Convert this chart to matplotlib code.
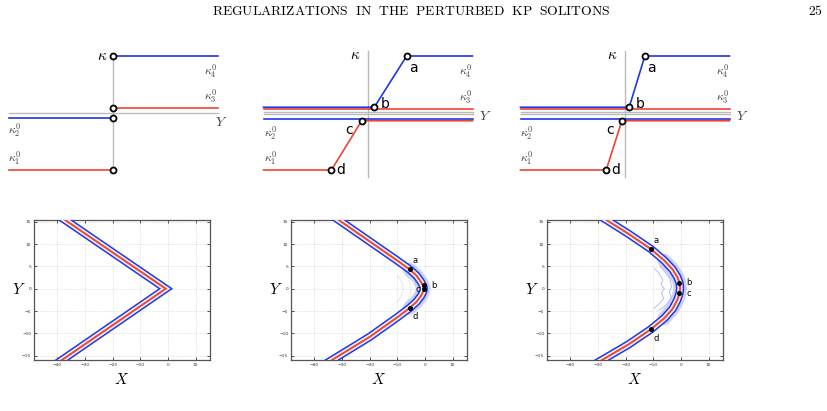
import numpy as np
import matplotlib.pyplot as plt

plt.rcParams['mathtext.fontset'] = 'cm'

# --- data ---
# top row: kappa levels (k1, k2, k3, k4) and break points Y of a, b, c, d
kap1 = [-1.0, -0.088, 0.088, 1.0]
kap23 = [-1.0, -0.12, 0.085, 1.0]
ya = [0.37, 0.19]
yb = [0.06, 0.04]
yc = [-0.06, -0.03]
yd = [-0.35, -0.18]

# bottom row: soliton center line (X, Y)
v_x = [-40.5, -0.8, -41.2]
v_y = [16.8, 0.0, -17.2]

p5_x = [-34.0, -20.0, -10.0, -5.5, -3.0, -1.4, -0.6, -0.4, -0.6, -1.4, -3.0, -5.5, -10.0, -20.0, -35.0]
p5_y = [16.6, 10.6, 6.3, 4.3, 2.9, 1.5, 0.5, 0.0, -0.6, -1.6, -2.9, -4.3, -6.4, -10.8, -16.5]
p5_dots_x = [-5.4, -0.3, -0.3, -5.4]
p5_dots_y = [4.4, 0.8, -0.15, -4.25]

p6_x = [-30.0, -19.0, -10.9, -6.0, -3.0, -1.3, -0.5, -0.3, -0.5, -1.3, -3.0, -6.0, -10.9, -19.0, -30.0]
p6_y = [16.6, 12.3, 8.9, 6.3, 4.3, 2.6, 1.3, 0.1, -1.0, -2.5, -4.5, -6.6, -9.1, -12.5, -16.5]
p6_dots_x = [-10.9, -0.65, -0.65, -10.9]
p6_dots_y = [8.9, 1.35, -1.0, -9.1]

# faint inner contours
arc5 = [
    ([-4.5, -3.6, -3.2, -3.6, -4.5], [3.2, 1.6, 0.0, -1.6, -3.2]),
    ([-7.0, -5.6, -5.0, -5.6, -7.0], [3.4, 1.8, 0.0, -1.8, -3.4]),
    ([-10.0, -8.4, -7.8, -8.4, -10.0], [3.0, 1.6, 0.0, -1.6, -3.0]),
]
arc6 = [
    ([-7.5, -5.5, -4.0, -3.4, -4.2, -3.5, -4.5, -6.0, -8.0],
     [5.0, 3.5, 2.2, 0.5, -0.8, -2.0, -3.0, -4.0, -4.8]),
    ([-9.5, -8.0, -6.5, -7.2, -6.0, -7.0, -6.2, -8.0, -9.8],
     [4.5, 3.5, 2.0, 1.0, 0.0, -1.0, -2.2, -3.5, -4.4]),
]

xticks = [-40, -30, -20, -10, 0, 10]
yticks = [-15, -10, -5, 0, 5, 10, 15]

BLUE = '#2036e8'
RED = '#ee4433'
GRAY = '#bbbbbb'

W, H = 827, 411
fig = plt.figure(figsize=(W / 100, H / 100), dpi=100)

fig.text(411 / W, 1 - 11 / H, r'$\mathrm{REGULARIZATIONS\ \ IN\ \ THE\ \ PERTURBED\ \ KP\ \ SOLITONS}$',
         ha='center', va='center', fontsize=9.8)
fig.text(815 / W, 1 - 11 / H, r'$\mathrm{25}$', ha='center', va='center', fontsize=9.8)


def top_axes(x0):
    ax = fig.add_axes([(x0 - 110) / W, (H - 190) / H, 225 / W, 155 / H])
    ax.set_xlim(-110 / 104.5, 115 / 104.5)
    ax.set_ylim(-77 / 57, 78 / 57)
    ax.axis('off')
    return ax


def circ(ax, x, y):
    ax.plot([x], [y], 'o', ms=4.3, mfc='white', mec='black', mew=1.3, zorder=5)


def klabels(ax, k, klo, khi):
    ax.text(1.0, k[3] - 0.1, r'$\kappa_4^0$', ha='right', va='top', fontsize=8.5, color='#444444')
    ax.text(1.0, khi + 0.06, r'$\kappa_3^0$', ha='right', va='bottom', fontsize=8.5, color='#444444')
    ax.text(-1.0, klo - 0.06, r'$\kappa_2^0$', ha='left', va='top', fontsize=8.5, color='#444444')
    ax.text(-1.0, k[0] + 0.06, r'$\kappa_1^0$', ha='left', va='bottom', fontsize=8.5, color='#444444')


# panel 1
ax = top_axes(113)
k = kap1
ax.plot([-1, 1], [0, 0], color=GRAY, lw=1.0)
ax.plot([0, 0], [k[0], k[3]], color=GRAY, lw=1.0)
ax.plot([0, 1], [k[3], k[3]], color=BLUE, lw=1.2)
ax.plot([0, 1], [k[2], k[2]], color=RED, lw=1.2)
ax.plot([-1, 0], [k[1], k[1]], color=BLUE, lw=1.2)
ax.plot([-1, 0], [k[0], k[0]], color=RED, lw=1.2)
for kk in k:
    circ(ax, 0, kk)
ax.text(-0.05, k[3], r'$\kappa$', ha='right', va='center', fontsize=11)
ax.text(0.98, -0.03, r'$Y$', ha='left', va='top', fontsize=10, color='#444444')
klabels(ax, k, k[1], k[2])

# panels 2 and 3
d = 0.016
for i, x0 in enumerate([368, 625]):
    ax = top_axes(x0)
    k = kap23
    ax.plot([-1, 1], [0.012, 0.012], color=GRAY, lw=1.0)
    ax.plot([-1, 1], [-0.018, -0.018], color=GRAY, lw=1.0)
    ax.plot([0, 0], [-1.12, 1.09], color=GRAY, lw=1.0)
    ax.plot([-1, 1], [k[2] - d, k[2] - d], color=RED, lw=1.2)
    ax.plot([-1, 1], [k[1] + d, k[1] + d], color=BLUE, lw=1.2)
    ax.plot([-1, yb[i], ya[i], 1], [k[2] + d, k[2] + d, k[3], k[3]], color=BLUE, lw=1.2)
    ax.plot([-1, yd[i], yc[i], 1], [k[0], k[0], k[1] - d, k[1] - d], color=RED, lw=1.2)
    circ(ax, ya[i], k[3])
    circ(ax, yb[i], k[2] + d)
    circ(ax, yc[i], k[1] - d)
    circ(ax, yd[i], k[0])
    ax.text(ya[i] + 0.02, k[3] - 0.08, 'a', ha='left', va='top', fontsize=10)
    ax.text(yb[i] + 0.06, k[2] + 0.08, 'b', ha='left', va='center', fontsize=10)
    ax.text(yc[i] - 0.08, k[1] - 0.17, 'c', ha='right', va='center', fontsize=10)
    ax.text(yd[i] + 0.05, k[0], 'd', ha='left', va='center', fontsize=10)
    ax.text(-0.07, 1.02, r'$\kappa$', ha='right', va='center', fontsize=11)
    ax.text(1.06, -0.05, r'$Y$', ha='left', va='center', fontsize=10, color='#444444')
    klabels(ax, k, k[1] - d, k[2] - d)


def bottom_axes(xl):
    ax = fig.add_axes([xl / W, (H - 360) / H, 176 / W, 140 / H])
    ax.set_xlim(-48.4, 15.2)
    ax.set_ylim(-15.96, 15.38)
    ax.set_xticks(xticks)
    ax.set_yticks(yticks)
    ax.tick_params(direction='in', length=2, width=0.6, labelsize=3.2, colors='#333333',
                   top=True, right=True, pad=2)
    ax.grid(True, ls=':', lw=0.5, color='#c8c8c8')
    for s in ax.spines.values():
        s.set_color('#555555')
        s.set_linewidth(0.9)
    ax.set_xlabel(r'$X$', fontsize=11, labelpad=4)
    ax.set_ylabel(r'$Y$', fontsize=11, rotation=0, labelpad=2, va='center')
    return ax


def soliton(ax, xs, ys, join):
    ax.plot(xs, ys, color=BLUE, lw=6.0, solid_joinstyle=join, zorder=3)
    ax.plot(xs, ys, color='#f0f0f0', lw=3.8, solid_joinstyle=join, zorder=3)
    ax.plot(xs, ys, color=RED, lw=1.4, solid_joinstyle=join, zorder=4)


ax = bottom_axes(34)
soliton(ax, v_x, v_y, 'miter')

for xl, cx, cy, dx, dy, arcs, lab in [
        (291, p5_x, p5_y, p5_dots_x, p5_dots_y, arc5, 5),
        (547, p6_x, p6_y, p6_dots_x, p6_dots_y, arc6, 6)]:
    ax = bottom_axes(xl)
    for axs, ays in arcs:
        ax.plot(axs, ays, color='#8890e0', lw=0.5, ls=':' if lab == 5 else '-', alpha=0.8)
    ax.plot(cx[3:12], cy[3:12], color='#a8b0f0', lw=10, alpha=0.55, solid_capstyle='round', zorder=2)
    soliton(ax, cx, cy, 'round')
    ax.plot(dx, dy, 'o', color='black', ms=2.6, zorder=6)
    ax.annotate('a', (dx[0], dy[0]), xytext=(2, 4), textcoords='offset points', fontsize=6)
    ax.annotate('b', (dx[1], dy[1]), xytext=(5, 0), textcoords='offset points', fontsize=6, va='center')
    if lab == 5:
        ax.annotate('c', (dx[2], dy[2]), xytext=(-3, 0), textcoords='offset points', fontsize=6,
                    ha='right', va='center')
    else:
        ax.annotate('c', (dx[2], dy[2]), xytext=(5, 0), textcoords='offset points', fontsize=6, va='center')
    ax.annotate('d', (dx[3], dy[3]), xytext=(2, -3), textcoords='offset points', fontsize=6, va='top')

fig.savefig('out.png', dpi=100)
